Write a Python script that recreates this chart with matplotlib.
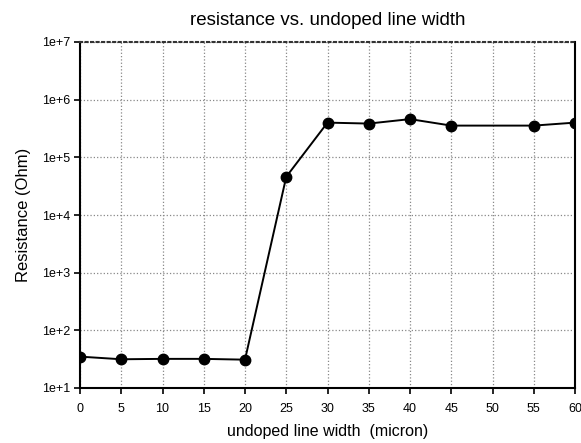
import matplotlib.pyplot as plt
import numpy as np

plt.rcParams['font.family'] = ['Liberation Sans', 'DejaVu Sans']

width = [0, 5, 10, 15, 20, 25, 30, 35, 40, 45, 55, 60]
resistance = [35, 31.5, 32, 32, 31, 4.6e4, 4.0e5, 3.85e5, 4.6e5, 3.55e5, 3.55e5, 4.0e5]
xticks = [0, 5, 10, 15, 20, 25, 30, 35, 40, 45, 50, 55, 60]
yticks = [1e1, 1e2, 1e3, 1e4, 1e5, 1e6, 1e7]
ylabels = ['1e+1', '1e+2', '1e+3', '1e+4', '1e+5', '1e+6', '1e+7']

fig = plt.figure(figsize=(5.81, 4.43), dpi=100)
ax = fig.add_axes([80/581, 55/443, 495/581, 346/443])

ax.plot(width, resistance, color='black', lw=1.4, marker='o', ms=7.5)
ax.set_yscale('log')
ax.set_xlim(0, 60)
ax.set_ylim(1e1, 1e7)
ax.set_xticks(xticks)
ax.set_yticks(yticks)
ax.set_yticklabels(ylabels)
ax.yaxis.set_minor_locator(plt.NullLocator())
ax.tick_params(labelsize=9, length=4, width=1.2, direction='out', pad=3)
ax.tick_params(axis='x', pad=7)
ax.grid(True, color='#888888', linestyle=':', linewidth=0.9)

for s in ['left', 'bottom', 'right']:
    ax.spines[s].set_linewidth(1.5)
ax.spines['top'].set_linestyle(':')
ax.spines['top'].set_linewidth(1.5)
ax.spines['top'].set_color('#333333')

ax.set_title('resistance vs. undoped line width', fontsize=13.5, pad=12)
ax.set_xlabel('undoped line width  (micron)', fontsize=11.5, labelpad=6)
ax.set_ylabel('Resistance (Ohm)', fontsize=12, labelpad=8)

fig.savefig('out.png', dpi=100)
